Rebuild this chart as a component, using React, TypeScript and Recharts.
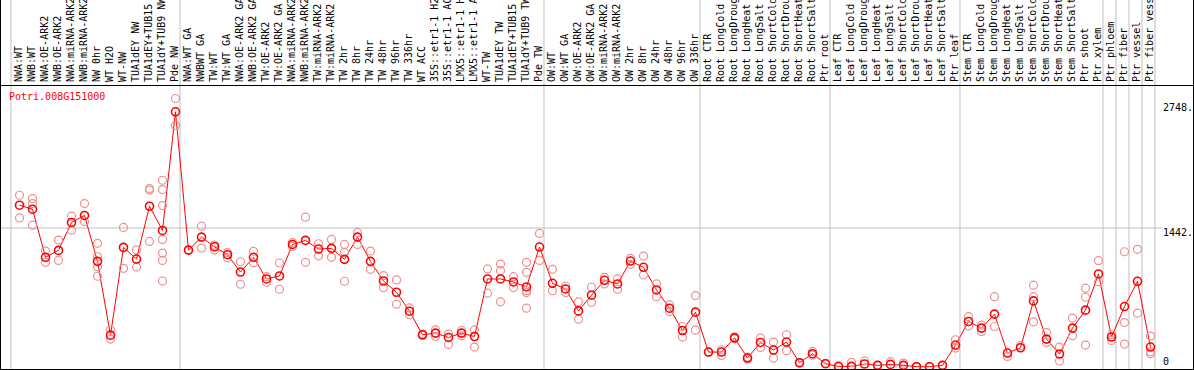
import { ComposedChart, Line, Scatter, XAxis, YAxis, ReferenceLine } from 'recharts'

const geneName = 'Potri.008G151000'

const labels = [
  'NWA:WT', 'NWB:WT', 'NWA:OE-ARK2', 'NWB:OE-ARK2', 'NWA:miRNA-ARK2', 'NWB:miRNA-ARK2',
  'NW 0hr', 'WT H2O', 'WT-NW', 'TUA1dEY NW', 'TUA1dEY+TUB15 NW', 'TUA1dY+TUB9 NW', 'Pde NW',
  'NWA:WT GA', 'NWBWT GA', 'TW:WT', 'TW:WT GA', 'NWA:OE-ARK2 GA', 'NWB:OE-ARK2 GA',
  'TW:OE-ARK2', 'TW:OE-ARK2 GA', 'NWA:miRNA-ARK2 GA', 'NWB:miRNA-ARK2 GA', 'TW:miRNA-ARK2',
  'TW:miRNA-ARK2 GA', 'TW 2hr', 'TW 8hr', 'TW 24hr', 'TW 48hr', 'TW 96hr', 'TW 336hr', 'WT ACC',
  '35S::etr1-1 H2O', '35S::etr1-1 ACC', 'LMX5::etr1-1 H2O', 'LMX5::etr1-1 ACC', 'WT-TW',
  'TUA1dEY TW', 'TUA1dEY+TUB15 TW', 'TUA1dY+TUB9 TW', 'Pde TW',
  'OW:WT', 'OW:WT GA', 'OW:OE-ARK2', 'OW:OE-ARK2 GA', 'OW:miRNA-ARK2', 'OW:miRNA-ARK2 GA',
  'OW 2hr', 'OW 8hr', 'OW 24hr', 'OW 48hr', 'OW 96hr', 'OW 336hr',
  'Root CTR', 'Root LongCold', 'Root LongDrought', 'Root LongHeat', 'Root LongSalt',
  'Root ShortCold', 'Root ShortDrought', 'Root ShortHeat', 'Root ShortSalt', 'Ptr root',
  'Leaf CTR', 'Leaf LongCold', 'Leaf LongDrought', 'Leaf LongHeat', 'Leaf LongSalt',
  'Leaf ShortCold', 'Leaf ShortDrought', 'Leaf ShortHeat', 'Leaf ShortSalt', 'Ptr leaf',
  'Stem CTR', 'Stem LongCold', 'Stem LongDrought', 'Stem LongHeat', 'Stem LongSalt',
  'Stem ShortCold', 'Stem ShortDrought', 'Stem ShortHeat', 'Stem ShortSalt', 'Ptr shoot',
  'Ptr xylem', 'Ptr phloem', 'Ptr fiber', 'Ptr vessel', 'Ptr fiber vessel',
]

const means = [
  1679, 1637, 1137, 1209, 1499, 1572, 1095, 328, 1240, 1119, 1668, 1416, 2650,
  1212, 1347, 1247, 1164, 984, 1137, 912, 943, 1271, 1313, 1223, 1230, 1116, 1347, 1095,
  891, 774, 577, 332, 349, 304, 349, 314, 912, 912, 881, 829, 1244,
  867, 808, 580, 743, 898, 860, 1098, 1033, 798, 608, 376, 567,
  152, 152, 300, 90, 252, 173, 256, 41, 135, 31,
  3, 3, 28, 14, 24, 14, 0, 0, 14, 225,
  470, 401, 546, 142, 197, 684, 287, 132, 401, 588,
  964, 308, 625, 888, 204,
]

const replicates = [
  [1782, 1547], [1748, 1696, 1471], [1202, 1085], [1316, 1105], [1565, 1420], [1696, 1510],
  [1282, 1143, 1040, 940], [383, 287], [1448, 1023], [1212, 1036], [1852, 1834, 1302],
  [1938, 1841, 1675, 1323, 1181, 1105, 891], [2788, 2508],
  [1212], [1461, 1233], [1264, 1212], [1185, 1133], [1091, 857], [1199, 1081], [936, 878],
  [1078, 805], [1290, 1250], [1554, 1085], [1278, 1153], [1323, 1137], [1271, 1189, 888],
  [1396, 1271], [1202, 1012], [946, 822], [902, 650], [611, 539], [340, 325], [383, 314],
  [342, 231], [376, 321], [383, 204], [1016, 764], [1067, 998, 674], [936, 822],
  [1085, 981, 790, 770, 608], [1385, 1105],
  [1012, 790], [839, 770], [674, 494], [826, 670], [929, 860], [912, 805], [1126, 1064],
  [1150, 953], [860, 728], [642, 573], [418, 308], [739, 380],
  [152], [176, 117], [310, 290], [100, 80], [297, 200], [256, 90], [332, 166], [45, 38],
  [159, 120], [35],
  [3], [45], [59], [14], [52], [38], [0], [0], [14], [280, 194],
  [521, 425], [432, 366], [728, 418], [107], [218], [847, 728, 466], [355, 252], [204, 59],
  [505, 321], [816, 722, 225],
  [1102, 884], [332, 273], [1195, 459, 235], [1220, 556], [318, 155, 135],
]

const yTicks = [0, 1442, 2748]
// number of categories before each grey separator
const groupBreaks = [0, 13, 41, 53, 63, 73, 84, 85, 86, 87, 88]

const meanData = means.map((v, i) => ({ idx: i, mean: v }))
const repData = replicates.flatMap((vals, i) => vals.map((v) => ({ idx: i, rep: v })))

const FONT = '"DejaVu Sans Mono", monospace'

function CategoryTick({ x, payload }: { x?: number; payload?: { value: number } }) {
  if (x == null || !payload) return null
  return (
    <text
      transform={`translate(${x + 2.5}, 82) rotate(-90)`}
      fontSize={10}
      fontFamily={FONT}
      fill="#000"
      textAnchor="start"
    >
      {labels[payload.value]}
    </text>
  )
}

function ValueTick({ x, y, payload }: { x?: number; y?: number; payload?: { value: number } }) {
  if (x == null || y == null || !payload) return null
  const v = payload.value
  return (
    <text x={x} y={y + (v === 0 ? -1.5 : 8.5)} fontSize={10} fontFamily={FONT} fill="#000" textAnchor="start">
      {v === 0 ? '0' : `${v}.`}
    </text>
  )
}

function Marker({ cx, cy, color, width }: { cx?: number; cy?: number; color: string; width: number }) {
  if (cx == null || cy == null) return null
  return <circle cx={cx} cy={cy} r={4} fill="none" stroke={color} strokeWidth={width} />
}

export default function App() {
  return (
    <div
      style={{
        position: 'absolute',
        left: 0,
        top: 0,
        width: 1194,
        height: 370,
        boxSizing: 'border-box',
        borderLeft: '1px solid #000',
        borderRight: '1px solid #000',
        borderBottom: '1px solid #000',
        background: '#fff',
      }}
    >
      <ComposedChart width={1192} height={369} data={meanData} margin={{ top: 0, right: 0, bottom: 0, left: 0 }}>
        <XAxis
          type="number"
          dataKey="idx"
          orientation="top"
          mirror
          height={1}
          domain={[-1.423, 87.885]}
          ticks={labels.map((_, i) => i)}
          interval={0}
          axisLine={false}
          tickLine={false}
          tick={<CategoryTick />}
          allowDataOverflow
        />
        <YAxis
          orientation="right"
          width={31}
          domain={[-24, 3812]}
          ticks={yTicks}
          interval={0}
          axisLine={false}
          tickLine={false}
          tickSize={0}
          tickMargin={1}
          tick={<ValueTick />}
          allowDataOverflow
        />
        {groupBreaks.map((k) => (
          <ReferenceLine key={k} x={k - 0.654} stroke="#c0c0c0" strokeWidth={1} />
        ))}
        <ReferenceLine y={1442} stroke="#c0c0c0" strokeWidth={1} />
        <Scatter
          data={repData}
          dataKey="rep"
          isAnimationActive={false}
          shape={(p: any) => <Marker cx={p.cx} cy={p.cy} color="#ee9090" width={1.2} />}
        />
        <Line
          dataKey="mean"
          stroke="#ff0000"
          strokeWidth={1}
          isAnimationActive={false}
          dot={(p: any) => <Marker key={p.index} cx={p.cx} cy={p.cy} color="#ff0000" width={1.6} />}
          activeDot={false}
        />
      </ComposedChart>
      <div style={{ position: 'absolute', left: -1, top: 85, width: 1194, height: 1, background: '#000' }} />
      <div
        style={{
          position: 'absolute',
          left: 8,
          top: 92,
          fontFamily: FONT,
          fontSize: 10,
          lineHeight: '10px',
          color: '#ff0000',
          whiteSpace: 'nowrap',
        }}
      >
        {geneName}
      </div>
    </div>
  )
}
